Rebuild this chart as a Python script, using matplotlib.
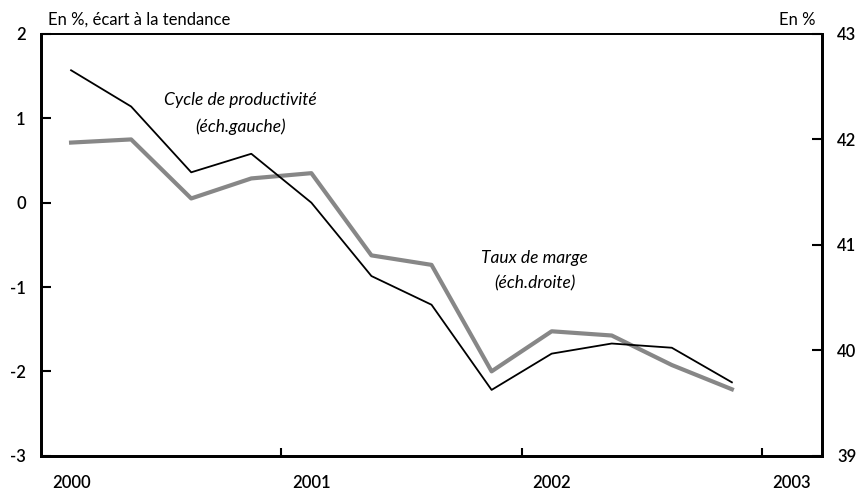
import matplotlib
matplotlib.use("Agg")
import matplotlib.pyplot as plt

plt.rcParams['font.family'] = ['Lato', 'DejaVu Sans']

quarters = list(range(12))
productivite = [1.57, 1.14, 0.36, 0.58, 0.00, -0.87, -1.21, -2.22, -1.79, -1.67, -1.72, -2.13]
taux_marge = [41.97, 42.00, 41.44, 41.63, 41.68, 40.90, 40.81, 39.80, 40.18, 40.14, 39.86, 39.63]
year_labels = ['2000', '2001', '2002', '2003']
year_label_pos = [0, 4, 8, 12]
year_ticks = [3.5, 7.5, 11.5]

fig = plt.figure(figsize=(8.62, 4.92), dpi=100)
ax = fig.add_axes([0.0476, 0.0738, 0.9060, 0.8571])
ax2 = ax.twinx()

ax.plot(quarters, productivite, color='black', lw=1.3, zorder=3)
ax2.plot(quarters, taux_marge, color='#878787', lw=3.0, zorder=2)

ax.set_xlim(-0.5, 12.5)
ax.set_ylim(-3, 2)
ax2.set_ylim(39, 43)
ax.set_yticks([-3, -2, -1, 0, 1, 2])
ax.set_yticklabels(['-3', '-2', '-1', '0', '1', '2'])
ax2.set_yticks([39, 40, 41, 42, 43])

ax.set_xticks(year_ticks)
ax.set_xticklabels([])
ax.set_xticks(year_label_pos, minor=True)
ax.set_xticklabels(year_labels, minor=True)

ax.tick_params(axis='y', direction='in', length=7, width=1.5, labelsize=12, pad=11)
ax2.tick_params(axis='y', direction='in', length=7, width=1.5, labelsize=12, pad=11)
ax.tick_params(axis='x', which='major', direction='in', length=6, width=1.5)
ax.tick_params(axis='x', which='minor', length=0, labelsize=12, pad=14)

for lab in ax.get_yticklabels() + ax2.get_yticklabels() + ax.get_xticklabels(minor=True):
    lab.set_fontweight('semibold')

for a in (ax, ax2):
    for s in ['left', 'right', 'bottom']:
        a.spines[s].set_linewidth(2)
    a.spines['top'].set_linewidth(1.3)

ax.set_zorder(ax2.get_zorder() + 1)
ax.patch.set_visible(False)

fig.text(48/862, 1 - 20/492, 'En %, écart à la tendance', fontsize=12, ha='left', va='center')
fig.text(816/862, 1 - 20/492, 'En %', fontsize=12, ha='right', va='center')

ax.text(2.82, 1.22, 'Cycle de productivité', style='italic', fontsize=12.5, ha='center', va='center')
ax.text(2.82, 0.9, '(éch.gauche)', style='italic', fontsize=12.5, ha='center', va='center')
ax.text(7.72, -0.66, 'Taux de marge', style='italic', fontsize=12.5, ha='center', va='center')
ax.text(7.72, -0.96, '(éch.droite)', style='italic', fontsize=12.5, ha='center', va='center')

fig.savefig('out.png', dpi=100)
